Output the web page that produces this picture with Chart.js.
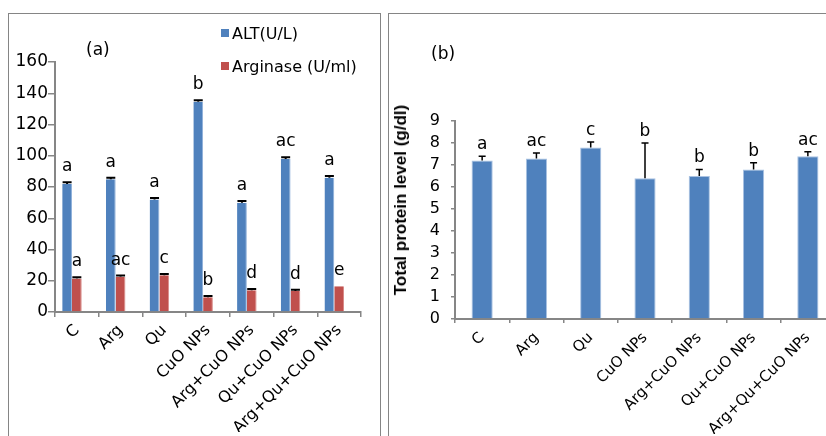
<!DOCTYPE html>
<html>
<head>
<meta charset="utf-8">
<script src="https://cdn.jsdelivr.net/npm/chart.js@4.4.1/dist/chart.umd.min.js"></script>
<style>
  body { margin: 0; width: 826px; height: 436px; overflow: hidden; position: relative; background: #fff;
         font-family: 'DejaVu Sans', sans-serif; color: #000; }
  .panel { position: absolute; border: 1px solid #858585; }
  #panelA { left: 8px; top: 13px; width: 371px; height: 460px; }
  #panelB { left: 388px; top: 13px; width: 480px; height: 460px; }
  canvas { position: absolute; top: 0; }
  #chartA { left: 0; }
  #chartB { left: 386px; }
  .tag { position: absolute; font-size: 17px; line-height: 20px; }
  .legendRow { position: absolute; left: 221px; height: 20px; display: flex; align-items: center; font-size: 16px; white-space: nowrap; }
  .legendRow span.box { width: 8px; height: 8px; margin-right: 3px; display: inline-block; }
  #yTitleB { position: absolute; left: 401px; top: 200px; transform: translate(-50%, -50%) rotate(-90deg);
             font-family: 'Liberation Sans', Arial, sans-serif; font-weight: bold; font-size: 17px; white-space: nowrap; }
</style>
</head>
<body>
<div class="panel" id="panelA"></div>
<div class="panel" id="panelB"></div>
<canvas id="chartA" width="385" height="436"></canvas>
<canvas id="chartB" width="460" height="436"></canvas>
<div class="tag" style="left:86px; top:39px;">(a)</div>
<div class="tag" style="left:431px; top:43px;">(b)</div>
<div id="legendA"></div>
<div id="yTitleB">Total protein level (g/dl)</div>

<script>
// groups on the x axis (same for both panels)
const groups = ['C', 'Arg', 'Qu', 'CuO NPs', 'Arg+CuO NPs', 'Qu+CuO NPs', 'Arg+Qu+CuO NPs'];

// panel (a)
const altName = 'ALT(U/L)';
const altValues = [82, 85, 72, 134.5, 70, 98, 86];
const altErrors = [1, 1, 1, 1, 1, 1, 1];
const altLetters = ['a', 'a', 'a', 'b', 'a', 'ac', 'a'];

const arginaseName = 'Arginase (U/ml)';
const arginaseValues = [21.5, 22.5, 23.5, 9.5, 14, 13.5, 16.5];
const arginaseErrors = [0.8, 0.8, 0.8, 0.8, 0.8, 0.8, 0];
const arginaseLetters = ['a', 'ac', 'c', 'b', 'd', 'd', 'e'];

// panel (b)
const proteinValues = [7.2, 7.3, 7.8, 6.4, 6.5, 6.8, 7.4];
const proteinErrors = [0.2, 0.25, 0.25, 1.6, 0.3, 0.3, 0.2];
const proteinLetters = ['a', 'ac', 'c', 'b', 'b', 'b', 'ac'];

const blue = '#4F81BD';
const red = '#C0504D';
const axisGrey = '#868686';

Chart.defaults.font.family = "'DejaVu Sans', sans-serif";
Chart.defaults.color = '#000';

// error bars (upper only) + significance letters above them
const errorBarsAndLetters = {
  id: 'errorBarsAndLetters',
  afterDatasetsDraw(chart, args, opts) {
    const ctx = chart.ctx;
    const yScale = chart.scales.y;
    chart.data.datasets.forEach((ds, di) => {
      if (!ds.errors) return;
      const meta = chart.getDatasetMeta(di);
      meta.data.forEach((bar, i) => {
        const v = ds.data[i];
        const err = ds.errors[i];
        const yVal = yScale.getPixelForValue(v);
        const yTop = yScale.getPixelForValue(v + err);
        ctx.save();
        ctx.strokeStyle = '#000';
        ctx.lineWidth = opts.lineWidth;
        if (err > 0) {
          ctx.beginPath();
          ctx.moveTo(bar.x, yVal);
          ctx.lineTo(bar.x, yTop);
          ctx.moveTo(bar.x - opts.capWidth / 2, yTop);
          ctx.lineTo(bar.x + opts.capWidth / 2, yTop);
          ctx.stroke();
        }
        ctx.fillStyle = '#000';
        ctx.font = opts.font;
        ctx.textAlign = 'center';
        ctx.textBaseline = 'alphabetic';
        ctx.fillText(ds.letters[i], bar.x, yTop - opts.gap);
        ctx.restore();
      });
    });
  }
};

// legend for (a), built from the series names
[[altName, blue, 23], [arginaseName, red, 56]].forEach(([name, color, top]) => {
  const row = document.createElement('div');
  row.className = 'legendRow';
  row.style.top = top + 'px';
  row.innerHTML = '<span class="box" style="background:' + color + '"></span>' + name;
  document.getElementById('legendA').appendChild(row);
});

const chartA = new Chart(document.getElementById('chartA'), {
  type: 'bar',
  data: {
    labels: groups,
    datasets: [
      { label: altName, data: altValues, errors: altErrors, letters: altLetters,
        backgroundColor: blue, borderColor: '#8eb0da', borderWidth: { right: 1 } },
      { label: arginaseName, data: arginaseValues, errors: arginaseErrors, letters: arginaseLetters,
        backgroundColor: red, borderColor: '#d98c8a', borderWidth: { right: 1 } },
      // empty third series slot (keeps the bars to the left of each group)
      { label: '', data: groups.map(() => null), backgroundColor: 'transparent' }
    ]
  },
  options: {
    responsive: false,
    animation: false,
    categoryPercentage: 0.67,
    barPercentage: 1,
    layout: { padding: { left: 0, right: 24, top: 62, bottom: 4 } },
    plugins: {
      legend: { display: false },
      tooltip: { enabled: false },
      errorBarsAndLetters: { lineWidth: 2, capWidth: 9, gap: 11, font: "17px 'DejaVu Sans'" }
    },
    scales: {
      x: {
        grid: { drawOnChartArea: false, tickLength: 5, color: axisGrey, lineWidth: 1.5 },
        border: { color: axisGrey, width: 2 },
        ticks: { minRotation: 45, maxRotation: 45, autoSkip: false, padding: 4, font: { size: 16 } },
        afterFit(scale) { scale.height = 120; }
      },
      y: {
        min: 0, max: 160,
        grid: { drawOnChartArea: false, tickLength: 7, color: axisGrey, lineWidth: 1.5 },
        border: { color: axisGrey, width: 2 },
        ticks: { stepSize: 20, autoSkip: false, padding: 0, font: { size: 17 } },
        afterFit(scale) { scale.width = 55; }
      }
    }
  },
  plugins: [errorBarsAndLetters]
});

const chartB = new Chart(document.getElementById('chartB'), {
  type: 'bar',
  data: {
    labels: groups,
    datasets: [
      { label: 'Total protein', data: proteinValues, errors: proteinErrors, letters: proteinLetters,
        backgroundColor: blue, borderColor: '#a9c2e2', borderWidth: 1 }
    ]
  },
  options: {
    responsive: false,
    animation: false,
    categoryPercentage: 1,
    barPercentage: 0.39,
    layout: { padding: { left: 0, right: 11, top: 121, bottom: 2 } },
    plugins: {
      legend: { display: false },
      tooltip: { enabled: false },
      errorBarsAndLetters: { lineWidth: 1.5, capWidth: 7, gap: 7, font: "17px 'DejaVu Sans'" }
    },
    scales: {
      x: {
        grid: { drawOnChartArea: false, tickLength: 4, color: axisGrey, lineWidth: 1.5 },
        border: { color: axisGrey, width: 2 },
        ticks: { minRotation: 45, maxRotation: 45, autoSkip: false, padding: 6, font: { size: 15 } },
        afterFit(scale) { scale.height = 115; }
      },
      y: {
        min: 0, max: 9,
        grid: { drawOnChartArea: false, tickLength: 4, color: axisGrey, lineWidth: 1.5 },
        border: { color: axisGrey, width: 2 },
        ticks: { stepSize: 1, autoSkip: false, padding: 11, font: { size: 16 } },
        afterFit(scale) { scale.width = 69; }
      }
    }
  },
  plugins: [errorBarsAndLetters]
});
</script>
</body>
</html>
